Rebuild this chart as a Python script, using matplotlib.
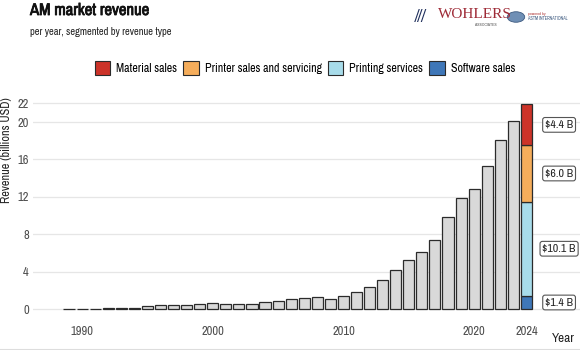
import numpy as np
import matplotlib.pyplot as plt
import matplotlib.patheffects as pe
from matplotlib import font_manager
from matplotlib.patches import Patch, Circle

narrow = ['Liberation Sans Narrow', 'Archivo Narrow', 'Liberation Sans', 'DejaVu Sans']
plt.rcParams['font.family'] = narrow

# yearly total revenue (billions USD), 1989-2023
years = list(range(1989, 2024))
revenue = [0.03, 0.04, 0.05, 0.06, 0.08, 0.15, 0.3, 0.42, 0.45, 0.48, 0.55,
           0.65, 0.57, 0.5, 0.54, 0.75, 0.86, 1.04, 1.21, 1.25, 1.1,
           1.39, 1.79, 2.32, 3.07, 4.14, 5.21, 6.1, 7.39, 9.86, 11.93,
           12.82, 15.32, 18.07, 20.07]

# 2024 split by revenue type (bottom to top)
seg_year = 2024
seg_names = ['Software sales', 'Printing services', 'Printer sales and servicing', 'Material sales']
seg_values = [1.4, 10.1, 6.0, 4.4]
seg_colors = ['#3f77b8', '#a8dcea', '#f5ad5b', '#cc3329']

xticks = [1990, 2000, 2010, 2020, 2024]
yticks = [0, 4, 8, 12, 16, 20, 22]

fig = plt.figure(figsize=(5.8, 3.5), dpi=100)
ax = fig.add_axes([0.057, 0.101, 0.943, 0.609])

ax.bar(years, revenue, width=0.85, color='#d9d9d9', edgecolor='#2b2b2b', linewidth=0.9, zorder=3)

bottom = 0
for name, val, col in zip(seg_names, seg_values, seg_colors):
    ax.bar(seg_year, val, bottom=bottom, width=0.85, color=col, edgecolor='#2b2b2b',
           linewidth=0.9, zorder=3)
    ax.text(seg_year + 2.5, bottom + val / 2, r'\$%.1f B' % val, ha='center', va='center',
            fontsize=8.5, color='#222222', zorder=4,
            bbox=dict(boxstyle='round,pad=0.2', fc='white', ec='#555555', lw=0.8))
    bottom += val

ax.set_xlim(1986.25, 2028.1)
ax.set_ylim(-0.6, 22.2)
ax.set_xticks(xticks)
ax.set_yticks(yticks)
ax.tick_params(axis='both', length=0, labelsize=9, labelcolor='#4d4d4d', pad=3)
ax.tick_params(axis='x', pad=8)
ax.grid(axis='y', color='#e6e6e6', linewidth=0.9, zorder=0)
for s in ax.spines.values():
    s.set_visible(False)

fig.text(7 / 580, 1 - 150 / 350, 'Revenue (billions USD)', rotation=90, ha='center', va='center',
         fontsize=8.8, color='#222222')
fig.text(575 / 580, 1 - 338 / 350, 'Year', ha='right', va='center', fontsize=9.5, color='#222222')

# fake the bold if the narrow family has no bold face
bold_file = font_manager.findfont(font_manager.FontProperties(family=narrow, weight='bold'))
title_fx = [] if 'old' in bold_file else [pe.withStroke(linewidth=0.6, foreground='#111111')]
fig.text(30 / 580, 1 - 15 / 350, 'AM market revenue', fontsize=12, fontweight='bold',
         ha='left', va='baseline', color='#111111', path_effects=title_fx)
fig.text(30 / 580, 1 - 35 / 350, 'per year, segmented by revenue type', fontsize=7.5,
         ha='left', va='baseline', color='#222222')

handles = [Patch(facecolor=c, edgecolor='#2b2b2b', linewidth=0.8)
           for c in seg_colors[::-1]]
fig.legend(handles, seg_names[::-1], loc='center', bbox_to_anchor=(305 / 580, 1 - 68 / 350),
           ncol=4, frameon=False, fontsize=8.6, handlelength=1.3, handleheight=1.4,
           handletextpad=0.5, columnspacing=0.5)

# logos (approximated with text)
fig.text(415 / 580, 1 - 16 / 350, '///', fontsize=12, fontweight='bold', style='italic',
         color='#1f2f5c', ha='left', va='center')
fig.text(438 / 580, 1 - 15 / 350, 'WOHLERS', fontsize=11, color='#9e2a36',
         ha='left', va='center', family='Liberation Serif')
fig.text(497 / 580, 1 - 25 / 350, 'ASSOCIATES', fontsize=3, color='#555555',
         ha='right', va='center')
fig.patches.append(Circle((516 / 580, 1 - 17 / 350), 0.015, transform=fig.transFigure,
                          fc='#6f8fb5', ec='#3d5a80', lw=0.6))
fig.text(528 / 580, 1 - 14 / 350, 'powered by', fontsize=3, color='#b03a3a',
         ha='left', va='center')
fig.text(528 / 580, 1 - 19 / 350, 'ASTM INTERNATIONAL', fontsize=3.2, color='#3d5a80',
         ha='left', va='center')

fig.add_artist(plt.Line2D([0, 1], [1 / 350, 1 / 350], transform=fig.transFigure,
                          color='#dddddd', lw=0.8))

fig.savefig('out.png', dpi=100)
